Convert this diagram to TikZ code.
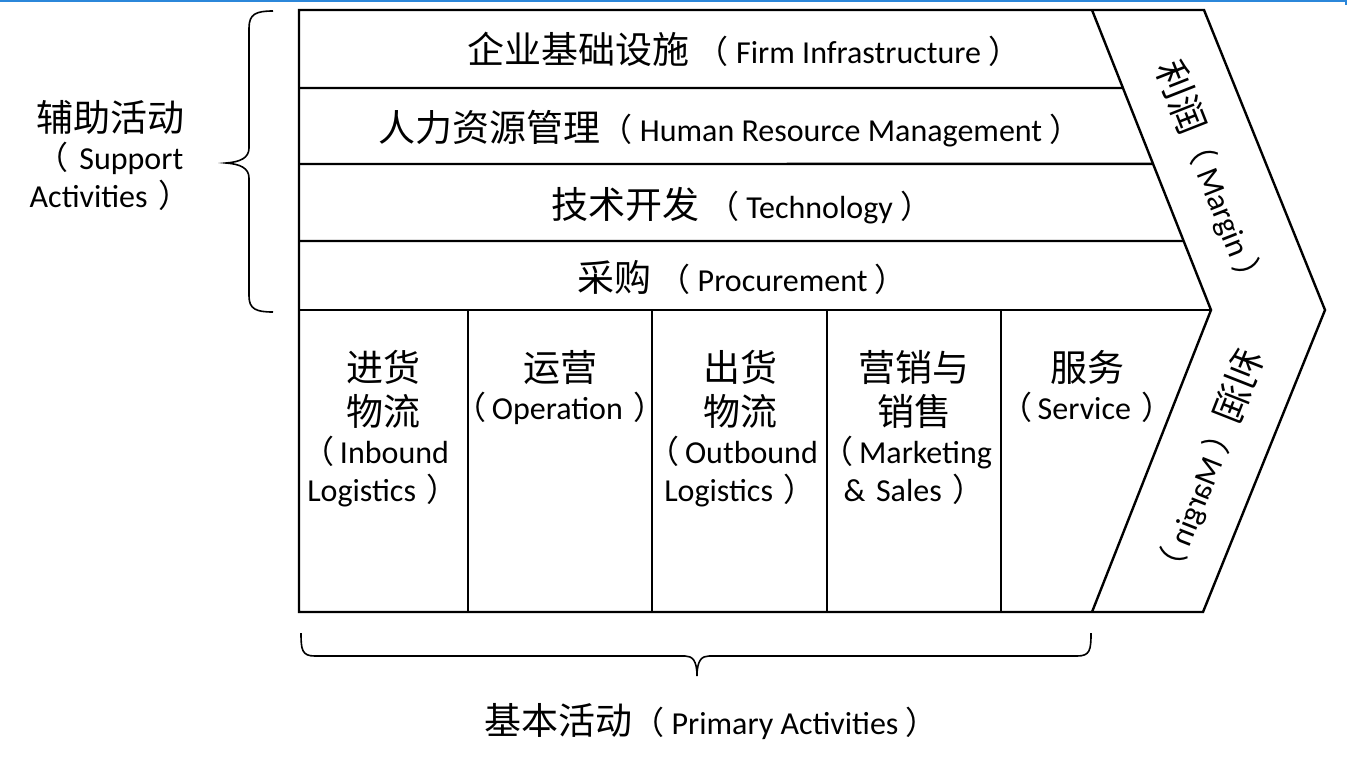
\documentclass[tikz,border=0pt]{standalone}
\usepackage{fontspec}
\setmainfont{Carlito}
\newfontfamily\cjk{Noto Sans CJK SC}
\usetikzlibrary{calc}
\definecolor{edgeblue}{RGB}{43,135,218}
\newcommand{\zh}[1]{{\cjk\fontsize{18.5}{22}\selectfont #1}}
\newcommand{\zhp}[1]{{\cjk #1}}
\newcommand{\openp}{\leavevmode{\cjk\kern-0.45em（}\,}

\begin{document}
\begin{tikzpicture}[x = 0.5pt, y = -0.5pt,
		frame/.style = {draw, line width = 1.2pt, line join = miter},
		brace_line/.style = {draw, line width = 0.8pt},
		row_node/.style = {inner sep = 0pt, font = \fontsize{16}{19}\selectfont},
		col_node/.style = {inner sep = 0pt, anchor = north, align = center, text width = 120pt, font = \fontsize{16}{19}\selectfont},
		margin_node/.style = {inner sep = 0pt, font = \fontsize{16}{19}\selectfont},
		]
		\useasboundingbox (0,0) rectangle (1347,756);
		\draw[edgeblue, line width = 0.8pt] (0,1) -- (1346,1) -- (1346,5);

		%chevron
		\coordinate (tl) at (299,10);
		\coordinate (bl) at (299,612);
		\coordinate (in_top) at (1092,10);
		\coordinate (in_tip) at (1211,310);
		\coordinate (in_bot) at (1092,612);
		\coordinate (out_top) at (1204,10);
		\coordinate (out_tip) at (1325,310);
		\coordinate (out_bot) at (1203,612);
		\draw[frame] (tl) -- (out_top) -- (out_tip) -- (out_bot) -- (bl) -- cycle;
		\draw[frame] (in_top) -- (in_tip) -- (in_bot);

		%support rows
		\draw[frame] (299,88) -- ($(in_top)!0.26!(in_tip)$);
		\draw[frame] (299,164) -- ($(in_top)!0.513!(in_tip)$);
		\draw[frame] (299,241) -- ($(in_top)!0.77!(in_tip)$);
		\draw[frame] (299,310) -- (in_tip);

		\node[row_node] (firm) at (744,49) {\zh{企业基础设施}\ \zhp{（} Firm Infrastructure \zhp{）}};
		\node[row_node] (hrm) at (730,129) {\zh{人力资源管理}\zhp{（} Human Resource Management \zhp{）}};
		\node[row_node] (tech) at (742,206) {\zh{技术开发}\ \zhp{（} Technology \zhp{）}};
		\node[row_node] (proc) at (742,277) {\zh{采购}\ \zhp{（} Procurement \zhp{）}};

		%primary columns
		\draw[frame] (468,310) -- (468,612);
		\draw[frame] (652,310) -- (652,612);
		\draw[frame] (827,310) -- (827,612);
		\draw[frame] (1001,310) -- (1001,612);

		\node[col_node] (inbound) at (383,350) {\zh{进货\par 物流\par}\openp Inbound\par Logistics \zhp{）}};
		\node[col_node] (operation) at (560,350) {\zh{运营\par}\zhp{（}\,Operation \zhp{）}};
		\node[col_node] (outbound) at (740,350) {\zh{出货\par 物流\par}\openp Outbound\par Logistics \zhp{）}};
		\node[col_node] (marketing) at (914,350) {\zh{营销与\par 销售\par}\openp Marketing\par \&~Sales \zhp{）}};
		\node[col_node] (service) at (1087,350) {\zh{服务\par}\zhp{（}\,Service \zhp{）}};

		%margin
		\node[margin_node, rotate = -68.5] (margin_up) at (1212,177) {\zh{利润}\zhp{（} Margin \zhp{）}};
		\node[margin_node, xscale = -1, rotate = -68.5] (margin_down) at (1208,466) {\zh{利润}\zhp{（} Margin \zhp{）}};

		%braces
		\draw[brace_line] (273,11) .. controls (256,11) and (249,14) .. (249,28) -- (249,148)
			.. controls (249,158) and (240,162) .. (226,163)
			.. controls (240,164) and (249,168) .. (249,178) -- (249,296)
			.. controls (249,309) and (256,312) .. (273,312);
		\node[col_node, anchor = center, text width = 90pt] (support) at (110,155) {\zh{辅助活动\par}\zhp{（} Support\par Activities \zhp{）}};

		\draw[brace_line] (301,633) .. controls (301,650) and (302,656) .. (315,656) -- (685,656)
			.. controls (692,656) and (697,660) .. (697,676)
			.. controls (697,660) and (702,656) .. (709,656) -- (1077,656)
			.. controls (1090,656) and (1091,650) .. (1091,633);
		\node[row_node] (primary) at (711,722) {\zh{基本活动}\zhp{（} Primary Activities \zhp{）}};

\end{tikzpicture}
\end{document}
